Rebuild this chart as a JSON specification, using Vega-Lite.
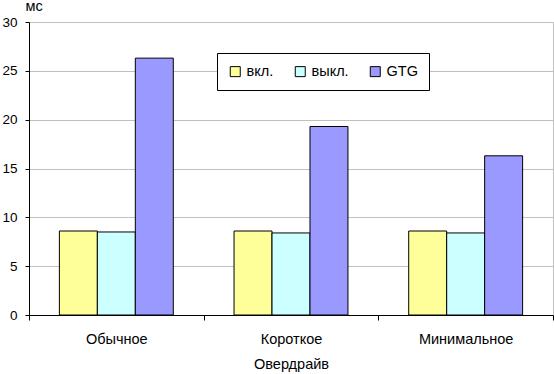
{
  "$schema": "https://vega.github.io/schema/vega-lite/v6.json",
  "width": 524,
  "height": 293,
  "autosize": {"type": "none"},
  "padding": {"left": 29, "top": 22, "right": 1, "bottom": 59},
  "background": "white",
  "config": {
    "font": "Liberation Sans",
    "view": {"stroke": "#c0c0c0", "strokeWidth": 1}
  },
  "data": {
    "values": [
      {"mode": "Обычное", "series": "вкл.", "value": 8.6},
      {"mode": "Обычное", "series": "выкл.", "value": 8.5},
      {"mode": "Обычное", "series": "GTG", "value": 26.3},
      {"mode": "Короткое", "series": "вкл.", "value": 8.6},
      {"mode": "Короткое", "series": "выкл.", "value": 8.4},
      {"mode": "Короткое", "series": "GTG", "value": 19.3},
      {"mode": "Минимальное", "series": "вкл.", "value": 8.6},
      {"mode": "Минимальное", "series": "выкл.", "value": 8.4},
      {"mode": "Минимальное", "series": "GTG", "value": 16.3}
    ]
  },
  "mark": {"type": "bar", "stroke": "black", "strokeWidth": 1},
  "encoding": {
    "x": {
      "field": "mode",
      "type": "nominal",
      "sort": ["Обычное", "Короткое", "Минимальное"],
      "scale": {"paddingInner": 0, "paddingOuter": 0},
      "axis": {
        "title": "Овердрайв",
        "titleFont": "Liberation Sans",
        "titleFontSize": 14.5,
        "titleFontWeight": "normal",
        "titleColor": "black",
        "titlePadding": 12,
        "labelAngle": 0,
        "labelFontSize": 14.5,
        "labelColor": "black",
        "labelPadding": 12,
        "tickBand": "extent",
        "tickSize": 5,
        "tickColor": "black",
        "domainColor": "black",
        "grid": false
      }
    },
    "xOffset": {
      "field": "series",
      "type": "nominal",
      "sort": ["вкл.", "выкл.", "GTG"],
      "scale": {"paddingInner": 0, "paddingOuter": 0.8}
    },
    "y": {
      "field": "value",
      "type": "quantitative",
      "scale": {"domain": [0, 30], "nice": false},
      "axis": {
        "title": "мс",
        "titleAngle": 0,
        "titleX": -4,
        "titleY": -12,
        "titleAlign": "left",
        "titleBaseline": "alphabetic",
        "titleFontSize": 14.5,
        "titleFontWeight": "normal",
        "titleColor": "black",
        "values": [0, 5, 10, 15, 20, 25, 30],
        "labelFontSize": 13.5,
        "labelColor": "black",
        "labelPadding": 8,
        "tickSize": 4,
        "tickColor": "black",
        "domainColor": "black",
        "gridColor": "#c0c0c0",
        "gridOpacity": 1
      }
    },
    "color": {
      "field": "series",
      "type": "nominal",
      "sort": ["вкл.", "выкл.", "GTG"],
      "scale": {"domain": ["вкл.", "выкл.", "GTG"], "range": ["#FFFF99", "#CCFFFF", "#9999FF"]},
      "legend": {
        "title": null,
        "orient": "none",
        "legendX": 188,
        "legendY": 31,
        "direction": "horizontal",
        "fillColor": "white",
        "strokeColor": "black",
        "padding": 11,
        "symbolType": "square",
        "symbolSize": 100,
        "symbolStrokeColor": "black",
        "symbolStrokeWidth": 1,
        "symbolOpacity": 1,
        "labelFontSize": 14.5,
        "labelOffset": 4,
        "labelColor": "black",
        "columnPadding": 19
      }
    }
  }
}
